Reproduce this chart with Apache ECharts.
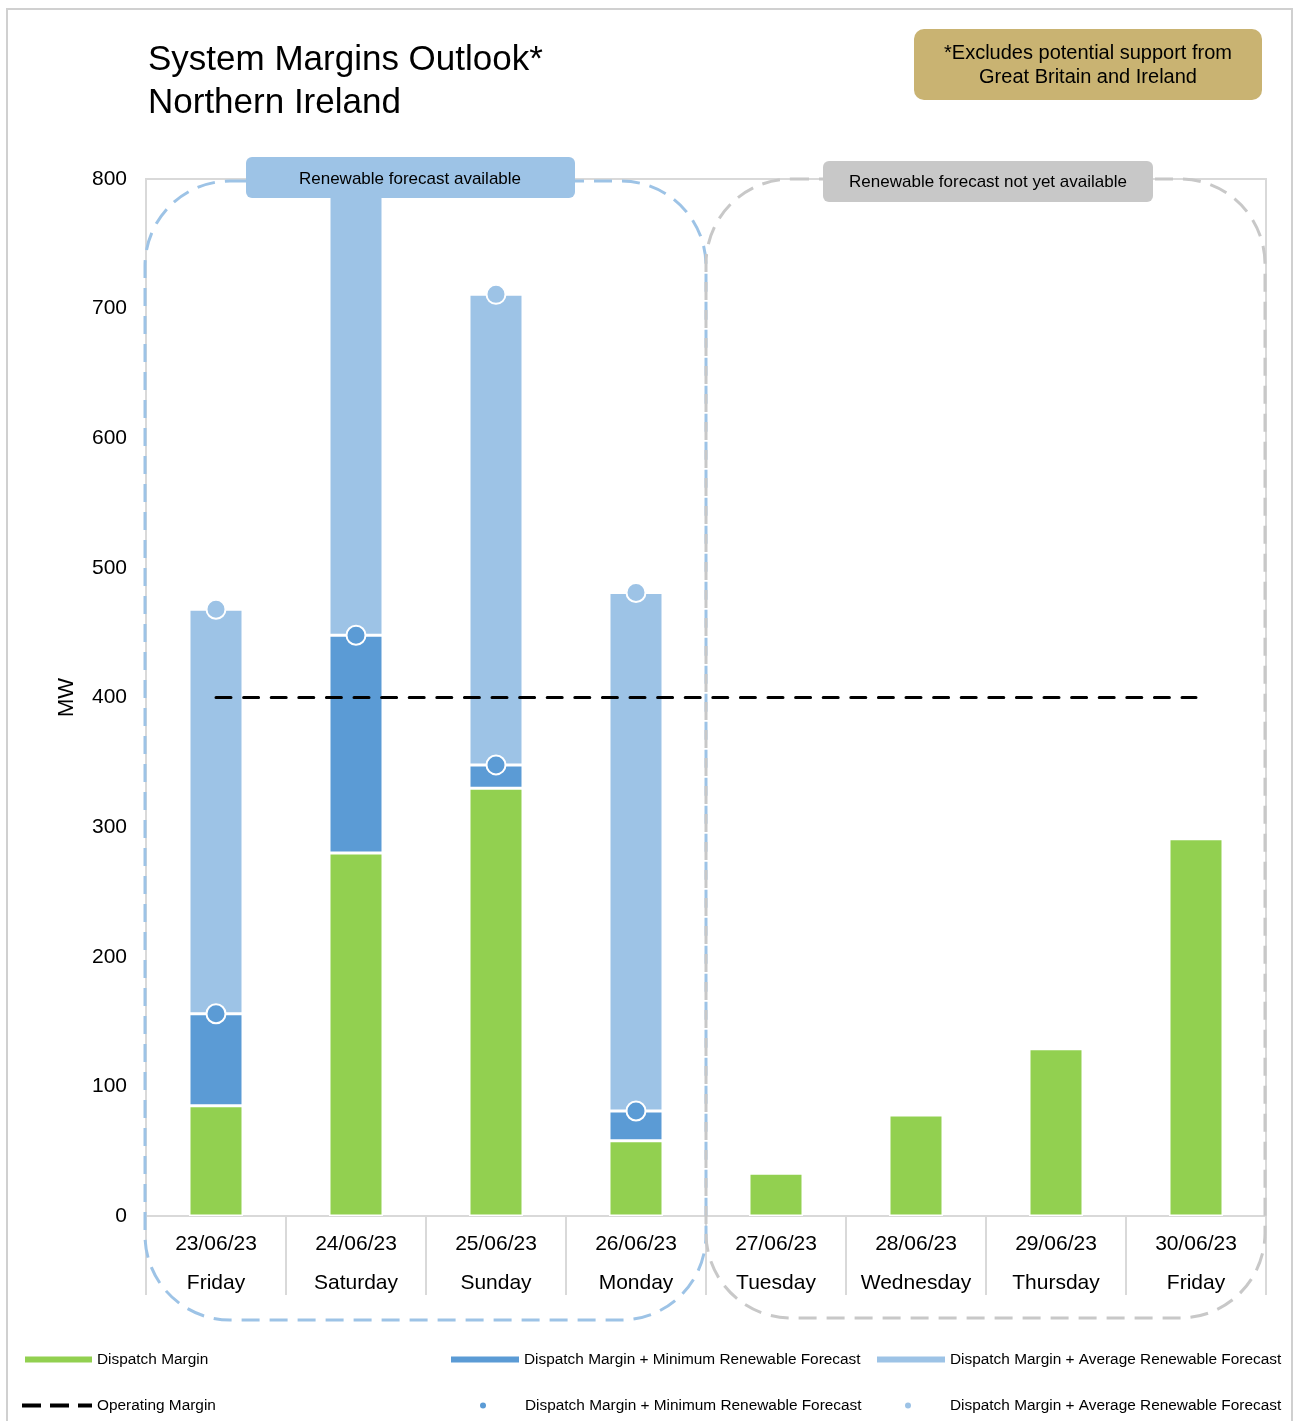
<!DOCTYPE html>
<html>
<head>
<meta charset="utf-8">
<script src="https://cdn.jsdelivr.net/npm/echarts@6/dist/echarts.min.js"></script>
<style>
html,body{margin:0;padding:0;background:#fff;}
#chart{width:1295px;height:1421px;}
</style>
</head>
<body>
<div id="chart"></div>
<script>
const dates = ['23/06/23','24/06/23','25/06/23','26/06/23','27/06/23','28/06/23','29/06/23','30/06/23'];
const days = ['Friday','Saturday','Sunday','Monday','Tuesday','Wednesday','Thursday','Friday'];
const dispatchMargin = [85, 280, 330, 58, 33, 78, 129, 291];
const dmPlusMinRenewable = [156, 448, 348, 81, null, null, null, null];
const dmPlusAvgRenewable = [468, 850, 711, 481, null, null, null, null];
const operatingMargin = [400, 400, 400, 400, 400, 400, 400, 400];
const yTicks = [0, 100, 200, 300, 400, 500, 600, 700, 800];

const minIncrement = dmPlusMinRenewable.map((v, i) => v == null ? null : v - dispatchMargin[i]);
const avgIncrement = dmPlusAvgRenewable.map((v, i) => v == null ? null : v - dmPlusMinRenewable[i]);

const GREEN = '#92D050', DARK = '#5B9BD5', LIGHT = '#9DC3E6';
const FONT = '"Liberation Sans", Arial, sans-serif';

const NAME_DM = 'Dispatch Margin';
const NAME_MIN = 'Dispatch Margin + Minimum Renewable Forecast';
const NAME_AVG = 'Dispatch Margin + Average Renewable Forecast';
const NAME_OM = 'Operating Margin';
const NAME_MIN_PT = NAME_MIN + ' ';
const NAME_AVG_PT = NAME_AVG + ' ';

const chart = echarts.init(document.getElementById('chart'));

function legendAt(name, left, top, icon, w, h, textPadLeft) {
  return {
    data: [name], left: left, top: top, padding: 0, icon: icon,
    itemWidth: w, itemHeight: h, selectedMode: false,
    itemStyle: { borderWidth: 0 },
    lineStyle: { width: 0 },
    formatter: n => n.trim(),
    textStyle: { fontSize: 15.4, color: '#000', fontFamily: FONT, padding: [0, 0, 0, textPadLeft || 0] }
  };
}

const option = {
  animation: false,
  backgroundColor: '#fff',
  title: {
    text: 'System Margins Outlook*\nNorthern Ireland',
    left: 148, top: 39, padding: 0,
    textStyle: { fontSize: 35, lineHeight: 43, fontWeight: 'normal', color: '#000', fontFamily: FONT }
  },
  legend: [
    legendAt(NAME_DM, 25, 1352, 'rect', 67, 6),
    legendAt(NAME_MIN, 451, 1352, 'rect', 68, 6),
    legendAt(NAME_AVG, 877, 1352, 'rect', 68, 6),
    legendAt(NAME_OM, 22, 1398, 'path://M0,0h19v4h-19z M28,0h19v4h-19z M56,0h14v4h-14z', 70, 4),
    legendAt(NAME_MIN_PT, 480, 1398, 'circle', 6, 6, 34),
    legendAt(NAME_AVG_PT, 905, 1398, 'circle', 6, 6, 34)
  ],
  grid: {
    left: 146, right: 29, top: 179, bottom: 205,
    show: true, borderColor: '#d9d9d9', borderWidth: 2, backgroundColor: 'transparent'
  },
  xAxis: {
    type: 'category',
    data: dates,
    axisLine: { lineStyle: { color: '#d9d9d9', width: 2 } },
    axisTick: { show: true, interval: 0, length: 79, lineStyle: { color: '#d9d9d9', width: 2 } },
    axisLabel: {
      interval: 0, margin: 9, fontSize: 21, lineHeight: 39, color: '#000', fontFamily: FONT,
      formatter: (v, i) => v + '\n' + days[i]
    }
  },
  yAxis: {
    type: 'value',
    min: yTicks[0], max: yTicks[yTicks.length - 1], interval: 100,
    name: 'MW', nameLocation: 'middle', nameGap: 68, nameRotate: 90,
    nameTextStyle: { fontSize: 22, color: '#000', fontFamily: FONT },
    axisLine: { show: false }, axisTick: { show: false },
    splitLine: { show: false },
    axisLabel: { fontSize: 21, color: '#000', margin: 19, fontFamily: FONT }
  },
  series: [
    {
      name: NAME_DM, type: 'bar', stack: 'm', barWidth: 54, data: dispatchMargin,
      itemStyle: { color: GREEN, borderColor: '#fff', borderWidth: 1.5 }, z: 3
    },
    {
      name: NAME_MIN, type: 'bar', stack: 'm', barWidth: 54, data: minIncrement,
      itemStyle: { color: DARK, borderColor: '#fff', borderWidth: 1.5 }, z: 3
    },
    {
      name: NAME_AVG, type: 'bar', stack: 'm', barWidth: 54, data: avgIncrement,
      itemStyle: { color: LIGHT, borderColor: '#fff', borderWidth: 1.5 }, z: 3
    },
    {
      name: NAME_OM, type: 'line', data: operatingMargin, symbol: 'none',
      itemStyle: { color: '#000' },
      lineStyle: { color: '#000', width: 3, type: [15, 12.6], cap: 'round' }, z: 6
    },
    {
      name: NAME_MIN_PT, type: 'scatter', data: dmPlusMinRenewable, symbolSize: 19,
      itemStyle: { color: DARK, borderColor: '#fff', borderWidth: 2, opacity: 1 }, z: 7
    },
    {
      name: NAME_AVG_PT, type: 'scatter', data: dmPlusAvgRenewable, symbolSize: 19,
      itemStyle: { color: LIGHT, borderColor: '#fff', borderWidth: 2, opacity: 1 }, z: 7
    }
  ],
  graphic: [
    { type: 'rect', z: -10, silent: true,
      shape: { x: 7, y: 9, width: 1285, height: 1440 },
      style: { fill: 'none', stroke: '#d0d0d0', lineWidth: 2 } },
    { type: 'rect', z: 50, silent: true,
      shape: { x: 145, y: 181, width: 561, height: 1139, r: 85 },
      style: { fill: 'none', stroke: LIGHT, lineWidth: 3, lineDash: [18, 10] } },
    { type: 'rect', z: 50, silent: true,
      shape: { x: 706, y: 179, width: 559, height: 1139, r: 85 },
      style: { fill: 'none', stroke: '#c8c8c8', lineWidth: 3, lineDash: [18, 10] } },
    { type: 'rect', z: 60, silent: true,
      shape: { x: 246, y: 157, width: 329, height: 41, r: 6 },
      style: { fill: LIGHT } },
    { type: 'text', z: 61, silent: true,
      style: { text: 'Renewable forecast available', x: 410, y: 179, align: 'center', verticalAlign: 'middle',
        font: '17px ' + FONT, fill: '#000' } },
    { type: 'rect', z: 60, silent: true,
      shape: { x: 823, y: 161, width: 330, height: 41, r: 6 },
      style: { fill: '#c8c8c8' } },
    { type: 'text', z: 61, silent: true,
      style: { text: 'Renewable forecast not yet available', x: 988, y: 182, align: 'center', verticalAlign: 'middle',
        font: '17px ' + FONT, fill: '#000' } },
    { type: 'rect', z: 60, silent: true,
      shape: { x: 914, y: 29, width: 348, height: 71, r: 10 },
      style: { fill: '#C9B372' } },
    { type: 'text', z: 61, silent: true,
      style: { text: '*Excludes potential support from\nGreat Britain and Ireland', x: 1088, y: 65,
        align: 'center', verticalAlign: 'middle', lineHeight: 24,
        font: '20px ' + FONT, fill: '#000' } }
  ]
};
chart.setOption(option);
</script>
</body>
</html>
